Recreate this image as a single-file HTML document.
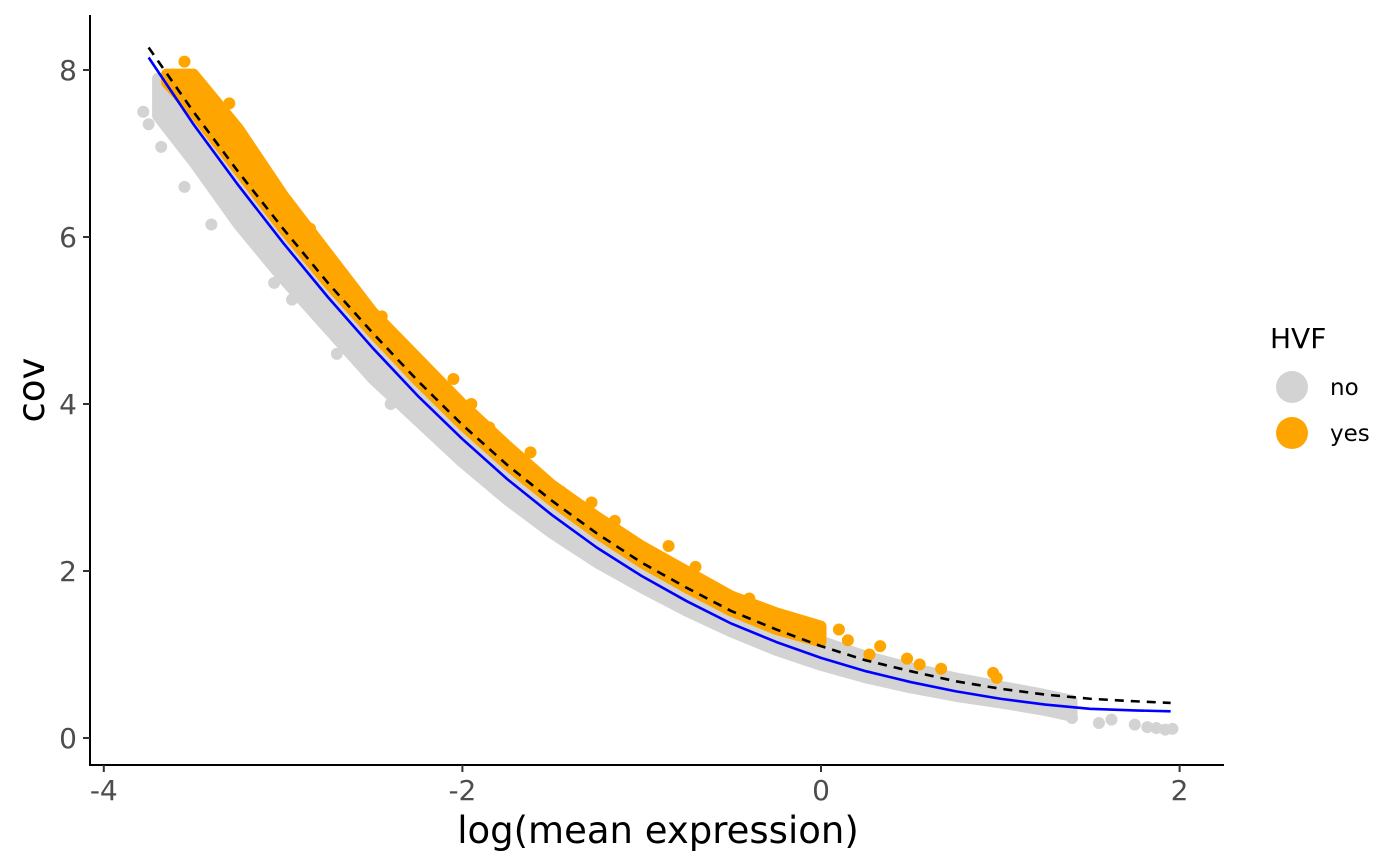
<!DOCTYPE html>
<html><head><meta charset="utf-8"><style>
html,body{margin:0;padding:0;background:#fff;}
svg{display:block;font-family:"DejaVu Sans","Liberation Sans",sans-serif;}
</style></head><body>
<svg id="chart" width="1400" height="865" viewBox="0 0 1400 865">
<g id="plot"></g>
<line x1="90" y1="15" x2="90" y2="766" stroke="#000" stroke-width="2"/>
<line x1="89" y1="765" x2="1224" y2="765" stroke="#000" stroke-width="2"/>
<g id="xticks"></g>
<g id="yticks"></g>
<text x="658" y="843" font-size="37" text-anchor="middle" fill="#000">log(mean expression)</text>
<text transform="translate(44,390) rotate(-90)" font-size="37" text-anchor="middle" fill="#000">cov</text>
<g>
<text x="1270" y="348" font-size="28" fill="#000">HVF</text>
<circle cx="1292" cy="387" r="16" fill="#d3d3d3"/>
<text x="1330" y="395" font-size="23" fill="#000">no</text>
<circle cx="1292" cy="433" r="16" fill="#ffa500"/>
<text x="1330" y="441" font-size="23" fill="#000">yes</text>
</g>
</svg>
<script>
const xTicks = [-4, -2, 0, 2];
const yTicks = [0, 2, 4, 6, 8];
const curveX = [-3.75,-3.5,-3.25,-3,-2.75,-2.5,-2.25,-2,-1.75,-1.5,-1.25,-1,-0.75,-0.5,-0.25,0,0.25,0.5,0.75,1,1.25,1.5,1.75,1.95];
const blueFit = [8.15,7.35,6.62,5.93,5.28,4.67,4.1,3.58,3.1,2.67,2.28,1.94,1.64,1.37,1.15,0.96,0.8,0.67,0.56,0.47,0.4,0.35,0.33,0.32];
const dashedFit = [8.27,7.5,6.78,6.1,5.45,4.85,4.28,3.75,3.27,2.84,2.45,2.1,1.8,1.52,1.3,1.1,0.93,0.8,0.68,0.59,0.52,0.47,0.44,0.42];
const grayBandX = [-3.7,-3.5,-3.25,-3,-2.75,-2.5,-2.25,-2,-1.75,-1.5,-1.25,-1,-0.75,-0.5,-0.25,0,0.25,0.5,0.75,1,1.25,1.4];
const grayLo = [7.45,6.9,6.15,5.5,4.9,4.3,3.8,3.3,2.85,2.45,2.1,1.8,1.52,1.27,1.05,0.87,0.72,0.6,0.5,0.42,0.33,0.26];
const grayHi = [7.9,7.65,6.95,6.25,5.6,5.0,4.4,3.85,3.35,2.92,2.52,2.18,1.86,1.58,1.36,1.16,0.98,0.84,0.72,0.62,0.52,0.45];
const orangeBandX = [-3.65,-3.5,-3.25,-3,-2.75,-2.5,-2.25,-2,-1.75,-1.5,-1.25,-1,-0.75,-0.5,-0.25,0];
const orangeLo = [7.85,7.5,6.8,6.1,5.45,4.85,4.28,3.75,3.27,2.84,2.45,2.1,1.8,1.52,1.3,1.15];
const orangeHi = [7.95,7.95,7.3,6.5,5.8,5.1,4.55,4.0,3.5,3.03,2.65,2.3,2.0,1.7,1.5,1.34];
const orangeOutX = [-3.55,-3.45,-3.3,-3.2,-3.1,-2.95,-2.85,-2.75,-2.6,-2.45,-2.3,-2.05,-1.95,-1.85,-1.62,-1.45,-1.28,-1.15,-0.85,-0.7,-0.4,-0.3,0.1,0.15,0.27,0.33,0.48,0.55,0.67,0.96,0.98];
const orangeOutY = [8.1,7.8,7.6,7.05,6.6,6.35,6.1,5.65,5.35,5.05,4.65,4.3,4.0,3.72,3.42,2.95,2.82,2.6,2.3,2.05,1.67,1.52,1.3,1.17,1.0,1.1,0.95,0.88,0.83,0.78,0.72];
const grayOutX = [-3.78,-3.75,-3.68,-3.55,-3.4,-3.05,-2.95,-2.7,-2.4,1.3,1.4,1.55,1.62,1.75,1.82,1.87,1.92,1.96];
const grayOutY = [7.5,7.35,7.08,6.6,6.15,5.45,5.25,4.6,4.0,0.45,0.24,0.18,0.22,0.16,0.13,0.12,0.1,0.11];

const NS = 'http://www.w3.org/2000/svg';
const sx = v => 821 + v * 179.3;
const sy = v => 738 - v * 83.5;
const plot = document.getElementById('plot');
function mk(tag, attrs, parent) {
  const e = document.createElementNS(NS, tag);
  for (const k in attrs) e.setAttribute(k, attrs[k]);
  parent.appendChild(e);
  return e;
}
function bandPath(xs, lo, hi) {
  let d = '';
  xs.forEach((x, i) => { d += (i ? 'L' : 'M') + sx(x) + ',' + sy(hi[i]); });
  for (let i = xs.length - 1; i >= 0; i--) d += 'L' + sx(xs[i]) + ',' + sy(lo[i]);
  return d + 'Z';
}
const gb = mk('path', {d: bandPath(grayBandX, grayLo, grayHi), fill: '#d3d3d3', stroke: '#d3d3d3', 'stroke-width': 11, 'stroke-linejoin': 'round'}, plot);


grayOutX.forEach((x, i) => {
  const c = mk('circle', {cx: sx(x), cy: sy(grayOutY[i]), r: 6, fill: '#d3d3d3'}, plot);
  
  
});
const ob = mk('path', {d: bandPath(orangeBandX, orangeLo, orangeHi), fill: '#ffa500', stroke: '#ffa500', 'stroke-width': 11, 'stroke-linejoin': 'round'}, plot);


orangeOutX.forEach((x, i) => {
  const c = mk('circle', {cx: sx(x), cy: sy(orangeOutY[i]), r: 6, fill: '#ffa500'}, plot);
  
  
});
function linePath(xs, ys) { return xs.map((x, i) => (i ? 'L' : 'M') + sx(x) + ',' + sy(ys[i])).join(''); }
const bl = mk('path', {d: linePath(curveX, blueFit), fill: 'none', stroke: '#0000ff', 'stroke-width': 2.6, 'stroke-linejoin': 'round'}, plot);


const dl = mk('path', {d: linePath(curveX, dashedFit), fill: 'none', stroke: '#000', 'stroke-width': 2.6, 'stroke-dasharray': '9,7'}, plot);



const xg = document.getElementById('xticks');
xTicks.forEach(t => {
  const l = mk('line', {x1: sx(t), x2: sx(t), y1: 765, y2: 772, stroke: '#333', 'stroke-width': 2}, xg);
  
  
  const tx = mk('text', {x: sx(t), y: 800, 'font-size': 28, 'text-anchor': 'middle', fill: '#4d4d4d'}, xg);
  tx.textContent = t;
  
  
});
const yg = document.getElementById('yticks');
yTicks.forEach(t => {
  const l = mk('line', {x1: 83, x2: 90, y1: sy(t), y2: sy(t), stroke: '#333', 'stroke-width': 2}, yg);
  
  
  const tx = mk('text', {x: 77, y: sy(t) + 10, 'font-size': 28, 'text-anchor': 'end', fill: '#4d4d4d'}, yg);
  tx.textContent = t;
  
  
});
</script>
</body></html>
